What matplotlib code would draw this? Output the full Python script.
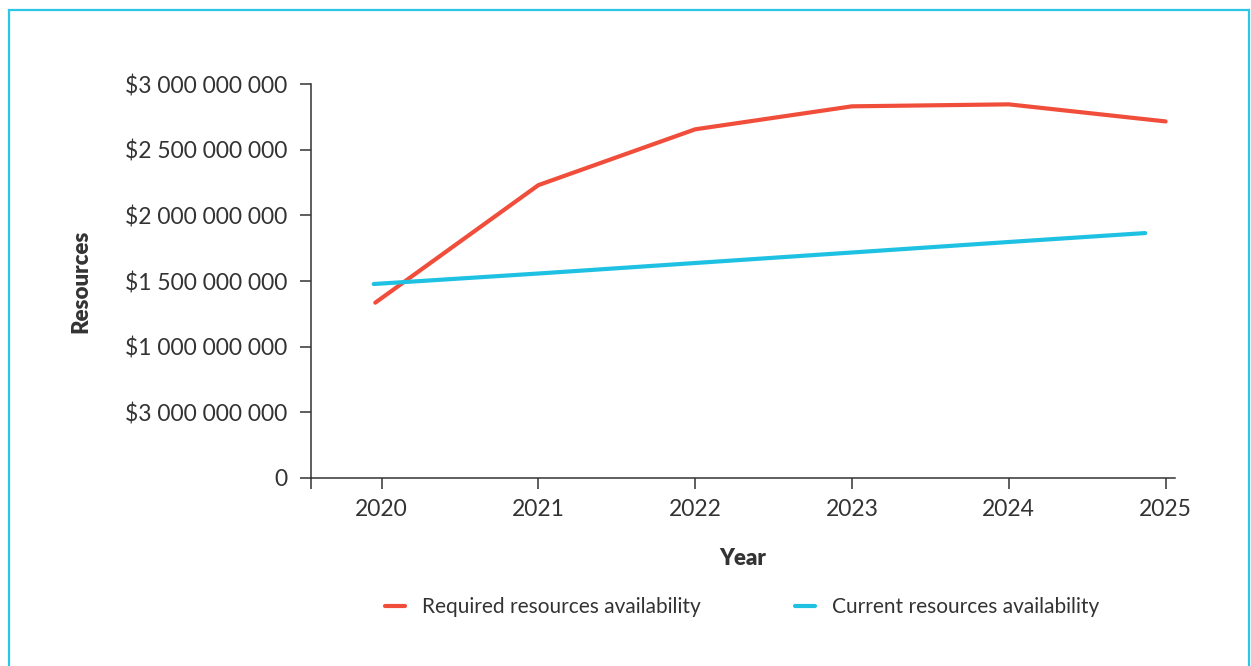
import matplotlib.pyplot as plt
from matplotlib.patches import Rectangle

plt.rcParams['font.family'] = ['Lato', 'DejaVu Sans']

years = [2020, 2021, 2022, 2023, 2024, 2025]
required = [1.335e9, 2.23e9, 2.655e9, 2.83e9, 2.845e9, 2.715e9]
current_x = [2019.95, 2021, 2022, 2023, 2024, 2024.87]
current = [1.477e9, 1.557e9, 1.637e9, 1.717e9, 1.797e9, 1.865e9]
ytick_vals = [0, 5e8, 1e9, 1.5e9, 2e9, 2.5e9, 3e9]
ytick_labels = ['0', '$3 000 000 000', '$1 000 000 000', '$1 500 000 000',
                '$2 000 000 000', '$2 500 000 000', '$3 000 000 000']

red = '#f04e3a'
blue = '#1fc1e3'
ink = '#333333'

fig = plt.figure(figsize=(12.51, 6.66), dpi=100)
ax = fig.add_axes([311/1251, 1-478/666, (1175-311)/1251, (478-84)/666])

ax.plot([2019.96] + years[1:], required, color=red, lw=3, solid_capstyle='round',
        label='Required resources availability')
ax.plot(current_x, current, color=blue, lw=3, solid_capstyle='round',
        label='Current resources availability')

ax.set_xlim(2019.55, 2025.06)
ax.set_ylim(0, 3e9)
ax.set_xticks(years)
ax.set_xticks([2019.55], minor=True)
ax.set_yticks(ytick_vals)
ax.set_yticklabels(ytick_labels)
for s in ['top', 'right']:
    ax.spines[s].set_visible(False)
for s in ['left', 'bottom']:
    ax.spines[s].set_color(ink)
    ax.spines[s].set_linewidth(1.1)
ax.tick_params(axis='both', which='both', colors=ink, labelcolor=ink, width=1.1,
               length=8, labelsize=16.5, pad=7)
ax.tick_params(axis='y', pad=9)

ax.set_xlabel('Year', fontsize=16, fontweight='heavy', color=ink, labelpad=20)
ax.set_ylabel('Resources', fontsize=16, fontweight='heavy', color=ink, labelpad=24)

fig.legend(loc='center', bbox_to_anchor=(742/1251, 1-607/666), ncol=2, frameon=False,
           fontsize=15, handlelength=1.0, columnspacing=4.5, handletextpad=0.8,
           labelcolor=ink)

fig.patches.append(Rectangle((9/1251, -0.05), (1249-9)/1251, 1-10/666+0.05,
                             transform=fig.transFigure, fill=False,
                             edgecolor='#2cc6e8', lw=1.6))

fig.savefig('out.png', dpi=100)
